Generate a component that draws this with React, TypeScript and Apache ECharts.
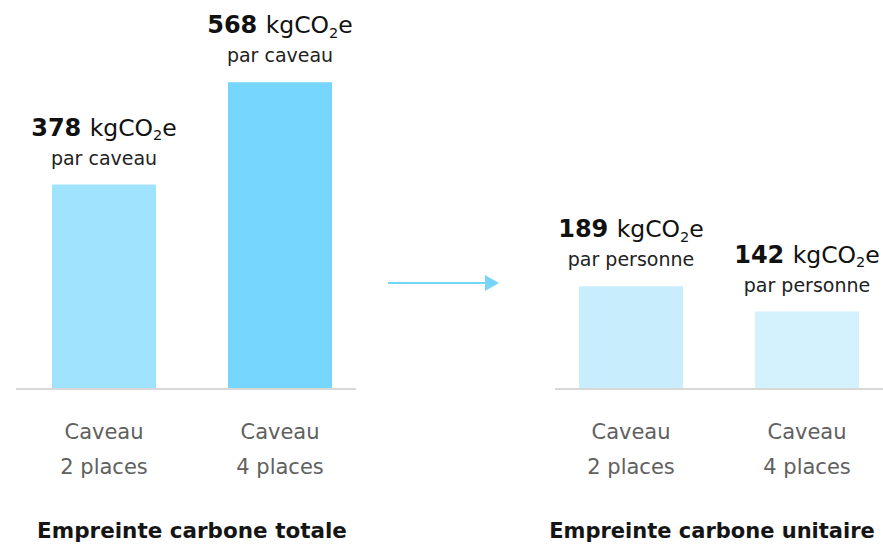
import React, { useEffect, useRef } from "react";
import * as echarts from "echarts";

const categories = ["Caveau\n2 places", "Caveau\n4 places"];
const totalValues = [378, 568];
const unitValues = [189, 142];
const totalColors = ["#9fe3fe", "#76d6fe"];
const unitColors = ["#c8eefe", "#d4f2fe"];
const totalSuffix = "par caveau";
const unitSuffix = "par personne";
const titles = ["Empreinte carbone totale", "Empreinte carbone unitaire"];

const FONT = "'DejaVu Sans', sans-serif";

const rich = {
  b: { fontFamily: FONT, fontSize: 24, fontWeight: 700, color: "#111", lineHeight: 30 },
  u: { fontFamily: FONT, fontSize: 23.5, color: "#111", lineHeight: 30 },
  s: { fontFamily: FONT, fontSize: 14.5, color: "#111", lineHeight: 14, verticalAlign: "bottom" },
  p: { fontFamily: FONT, fontSize: 19, color: "#222", lineHeight: 30 },
};

function makeLabel(suffix: string) {
  return {
    show: true,
    position: "top",
    distance: 12,
    formatter: (p: any) => `{b|${p.value}\u00a0}{u|kgCO}{s|2}{u|e}\n{p|${suffix}}`,
    rich,
  };
}

export default function App() {
  const ref = useRef<HTMLDivElement>(null);
  useEffect(() => {
    if (!ref.current) return;
    const chart = echarts.init(ref.current, null, { renderer: "svg" });
    const xAxisBase = {
      type: "category",
      data: categories,
      axisLine: { show: false },
      axisTick: { show: false },
      axisLabel: {
        interval: 0,
        margin: 26,
        fontFamily: FONT,
        fontSize: 21,
        color: "#606060",
        lineHeight: 35,
      },
      nameLocation: "middle",
      nameGap: 132,
    };
    const titleStyle = { fontFamily: FONT, fontSize: 21.5, fontWeight: 700, color: "#151515", lineHeight: 21 };
    chart.setOption({
      animation: false,
      grid: [
        { left: 16, top: 65, width: 352, height: 323, outerBoundsMode: "none", containLabel: false },
        { left: 543, top: 65, width: 352, height: 323, outerBoundsMode: "none", containLabel: false },
      ],
      xAxis: [
        { ...xAxisBase, gridIndex: 0, name: titles[0], nameTextStyle: titleStyle },
        {
          ...xAxisBase,
          gridIndex: 1,
          name: titles[1],
          nameTextStyle: { ...titleStyle, fontSize: 21, padding: [0, 14, 0, 0] },
        },
      ],
      yAxis: [
        { type: "value", gridIndex: 0, min: 0, max: 600, show: false },
        { type: "value", gridIndex: 1, min: 0, max: 600, show: false },
      ],
      series: [
        {
          type: "bar",
          xAxisIndex: 0,
          yAxisIndex: 0,
          barWidth: 104,
          data: totalValues.map((v, i) => ({ value: v, itemStyle: { color: totalColors[i] } })),
          label: makeLabel(totalSuffix),
        },
        {
          type: "bar",
          xAxisIndex: 1,
          yAxisIndex: 1,
          barWidth: 104,
          data: unitValues.map((v, i) => ({ value: v, itemStyle: { color: unitColors[i] } })),
          label: makeLabel(unitSuffix),
        },
      ],
      graphic: [
        { type: "line", shape: { x1: 16, y1: 389, x2: 356, y2: 389 }, style: { stroke: "#d8d8d8", lineWidth: 2 } },
        { type: "line", shape: { x1: 555, y1: 389, x2: 883, y2: 389 }, style: { stroke: "#d8d8d8", lineWidth: 2 } },
        { type: "line", shape: { x1: 388, y1: 283, x2: 486, y2: 283 }, style: { stroke: "#77d5fa", lineWidth: 2 } },
        { type: "polygon", shape: { points: [[485, 275], [499, 283], [485, 291]] }, style: { fill: "#77d5fa" } },
      ],
    });
    return () => chart.dispose();
  }, []);
  return <div ref={ref} style={{ width: 883, height: 545, position: "absolute", left: 0, top: 0 }} />;
}
